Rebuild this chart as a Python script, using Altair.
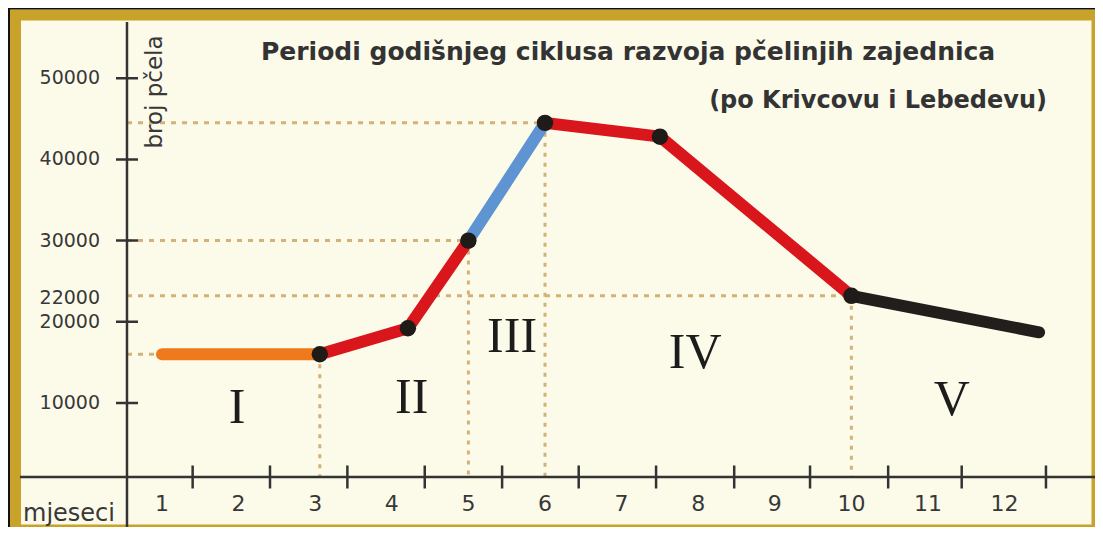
import altair as alt
import pandas as pd

# ---------------- data ----------------
months = [1.0, 3.06, 4.21, 5.0, 6.0, 7.5, 10.0, 12.45]
bees = [16000, 16000, 19200, 30000, 44500, 42800, 23200, 18700]
segment_colors = ["#EE7A1C", "#D8161C", "#D8161C", "#5E94D2", "#D8161C", "#D8161C", "#221E1B"]
marker_idx = [1, 2, 3, 4, 5, 6]
h_guide_idx = [0, 3, 4, 6]
v_guide_idx = [1, 3, 4, 6]

y_tick_values = [10000, 20000, 30000, 40000, 50000]
y_label_values = [10000, 20000, 30000, 40000, 50000]
y_label_text = ["10000", "20000", "30000", "40000", "50000"]
extra_label_value = [22000]
extra_label_text = ["22000"]

month_values = list(range(1, 13))
month_text = [str(m) for m in month_values]
x_tick_values = [1.4, 2.41, 3.42, 4.43, 5.44, 6.44, 7.45, 8.47, 9.46, 10.48, 11.44, 12.54]

period_names = ["I", "II", "III", "IV", "V"]
period_month = [1.98, 4.26, 5.57, 7.96, 11.31]
period_bees = [7500, 8800, 16300, 14300, 8500]

title_text = ["Periodi godišnjeg ciklusa razvoja pčelinjih zajednica"]
subtitle_text = ["(po Krivcovu i Lebedevu)"]
y_title = ["broj pčela"]
x_title = ["mjeseci"]

Y_AXIS_MONTH = 0.543   # where the vertical axis crosses (in months)
X_AXIS_BEES = 887      # where the horizontal axis crosses (in bees)

# ---------------- layout ----------------
W, H = 1087, 519
PX_MONTH = 76.6
M1_PX = 154
PX_BEE = 0.00812
B10K_PX = 395
x_dom = [1 - M1_PX / PX_MONTH, 1 + (W - M1_PX) / PX_MONTH]
y_dom = [10000 - (H - B10K_PX) / PX_BEE, 10000 + B10K_PX / PX_BEE]
XS = alt.Scale(domain=x_dom, nice=False, zero=False)
YS = alt.Scale(domain=y_dom, nice=False, zero=False)

CREAM = "#FCFBEA"
GOLD = "#C9A229"
TAN = "#D2B278"
INK = "#383838"


def X(f):
    return alt.X(f, type="quantitative", scale=XS, axis=None)


def Y(f):
    return alt.Y(f, type="quantitative", scale=YS, axis=None)


one = pd.DataFrame({"a": [0]})

# frame
frame = alt.Chart(one).mark_rect(filled=False, stroke=GOLD, strokeWidth=11).encode(
    x=alt.value(7.5), x2=alt.value(W + 2), y=alt.value(7), y2=alt.value(H + 3)
)
black_left = alt.Chart(one).mark_rule(color="#111", strokeWidth=2).encode(
    x=alt.value(1), y=alt.value(0), y2=alt.value(H)
)
black_top = alt.Chart(one).mark_rule(color="#111", strokeWidth=2).encode(
    y=alt.value(0.5), x=alt.value(0), x2=alt.value(W)
)

# guides
hg = pd.DataFrame({
    "m0": [Y_AXIS_MONTH] * len(h_guide_idx),
    "m1": [months[i] for i in h_guide_idx],
    "b": [bees[i] for i in h_guide_idx],
})
h_guides = alt.Chart(hg).mark_rule(color=TAN, strokeWidth=3, strokeDash=[5, 6]).encode(
    x=X("m0"), x2="m1", y=Y("b")
)
vg = pd.DataFrame({
    "m": [months[i] for i in v_guide_idx],
    "b0": [bees[i] for i in v_guide_idx],
    "b1": [X_AXIS_BEES] * len(v_guide_idx),
})
v_guides = alt.Chart(vg).mark_rule(color=TAN, strokeWidth=3, strokeDash=[4, 6]).encode(
    x=X("m"), y=Y("b0"), y2="b1"
)

# axes
ax_df = pd.DataFrame({"m": [Y_AXIS_MONTH], "b": [X_AXIS_BEES]})
y_axis = alt.Chart(ax_df).mark_rule(color="#333", strokeWidth=2.5).encode(
    x=X("m"), y=alt.value(14), y2=alt.value(H)
)
x_axis = alt.Chart(ax_df).mark_rule(color="#333", strokeWidth=2.5).encode(
    y=Y("b"), x=alt.value(12), x2=alt.value(W)
)
yt = pd.DataFrame({"m": [Y_AXIS_MONTH] * len(y_tick_values), "b": y_tick_values})
y_ticks = alt.Chart(yt).mark_tick(orient="horizontal", size=22, thickness=2.5, color="#333", opacity=1).encode(
    x=X("m"), y=Y("b")
)
xt = pd.DataFrame({"m": x_tick_values, "b": [X_AXIS_BEES] * len(x_tick_values)})
x_ticks = alt.Chart(xt).mark_tick(orient="vertical", size=23, thickness=2.5, color="#333", opacity=1).encode(
    x=X("m"), y=Y("b")
)

# labels
yl = pd.DataFrame({"b": y_label_values, "t": y_label_text})
y_labels = alt.Chart(yl).mark_text(align="right", baseline="middle", font="DejaVu Sans", fontSize=19, color=INK).encode(
    x=alt.value(92), y=Y("b"), text="t:N"
)
yl2 = pd.DataFrame({"b": extra_label_value, "t": extra_label_text})
y_labels2 = alt.Chart(yl2).mark_text(align="right", baseline="middle", dy=-8, font="DejaVu Sans", fontSize=19, color=INK).encode(
    x=alt.value(92), y=Y("b"), text="t:N"
)
xl = pd.DataFrame({"m": month_values, "t": month_text})
x_labels = alt.Chart(xl).mark_text(align="center", baseline="alphabetic", font="DejaVu Sans", fontSize=22, color=INK).encode(
    x=X("m"), y=alt.value(503), text="t:N"
)
xtitle = alt.Chart(pd.DataFrame({"t": x_title})).mark_text(align="left", baseline="alphabetic", font="DejaVu Sans", fontSize=24, color=INK).encode(
    x=alt.value(15), y=alt.value(513), text="t:N"
)
ytitle = alt.Chart(pd.DataFrame({"t": y_title})).mark_text(align="center", baseline="middle", angle=270, font="DejaVu Sans", fontSize=23, color=INK).encode(
    x=alt.value(147), y=alt.value(84), text="t:N"
)
title = alt.Chart(pd.DataFrame({"t": title_text})).mark_text(align="left", baseline="alphabetic", font="DejaVu Sans", fontWeight="bold", fontSize=25, color="#333333").encode(
    x=alt.value(253), y=alt.value(52), text="t:N"
)
subtitle = alt.Chart(pd.DataFrame({"t": subtitle_text})).mark_text(align="right", baseline="alphabetic", font="DejaVu Sans", fontWeight="bold", fontSize=24, color="#333333").encode(
    x=alt.value(1039), y=alt.value(100), text="t:N"
)

# series
rows = []
for i, c in enumerate(segment_colors):
    for j in (i, i + 1):
        rows.append({"seg": i, "m": months[j], "b": bees[j], "c": c})
seg_df = pd.DataFrame(rows)
lines = alt.Chart(seg_df).mark_line(strokeWidth=12, strokeCap="round", strokeJoin="round").encode(
    x=X("m"), y=Y("b"), detail="seg:N", color=alt.Color("c:N", scale=None), order="m:Q"
)
pts = pd.DataFrame({"m": [months[i] for i in marker_idx], "b": [bees[i] for i in marker_idx]})
points = alt.Chart(pts).mark_circle(size=270, color="#1E1B18", opacity=1).encode(x=X("m"), y=Y("b"))

per = pd.DataFrame({"m": period_month, "b": period_bees, "t": period_names})
periods = alt.Chart(per).mark_text(align="center", baseline="alphabetic", font="Liberation Serif", fontSize=50, color="#1C1C1C").encode(
    x=X("m"), y=Y("b"), text="t:N"
)

chart = alt.layer(
    frame, black_left, black_top,
    h_guides, v_guides,
    y_axis, x_axis, y_ticks, x_ticks,
    y_labels, y_labels2, x_labels, xtitle, ytitle, title, subtitle,
    lines, points, periods,
).properties(
    width=W, height=H, autosize=alt.AutoSizeParams(type="none"), padding=0, background=CREAM
).configure_view(stroke=None, fill=CREAM)

chart.save("out.html", embed_options={"renderer": "svg", "actions": False})
